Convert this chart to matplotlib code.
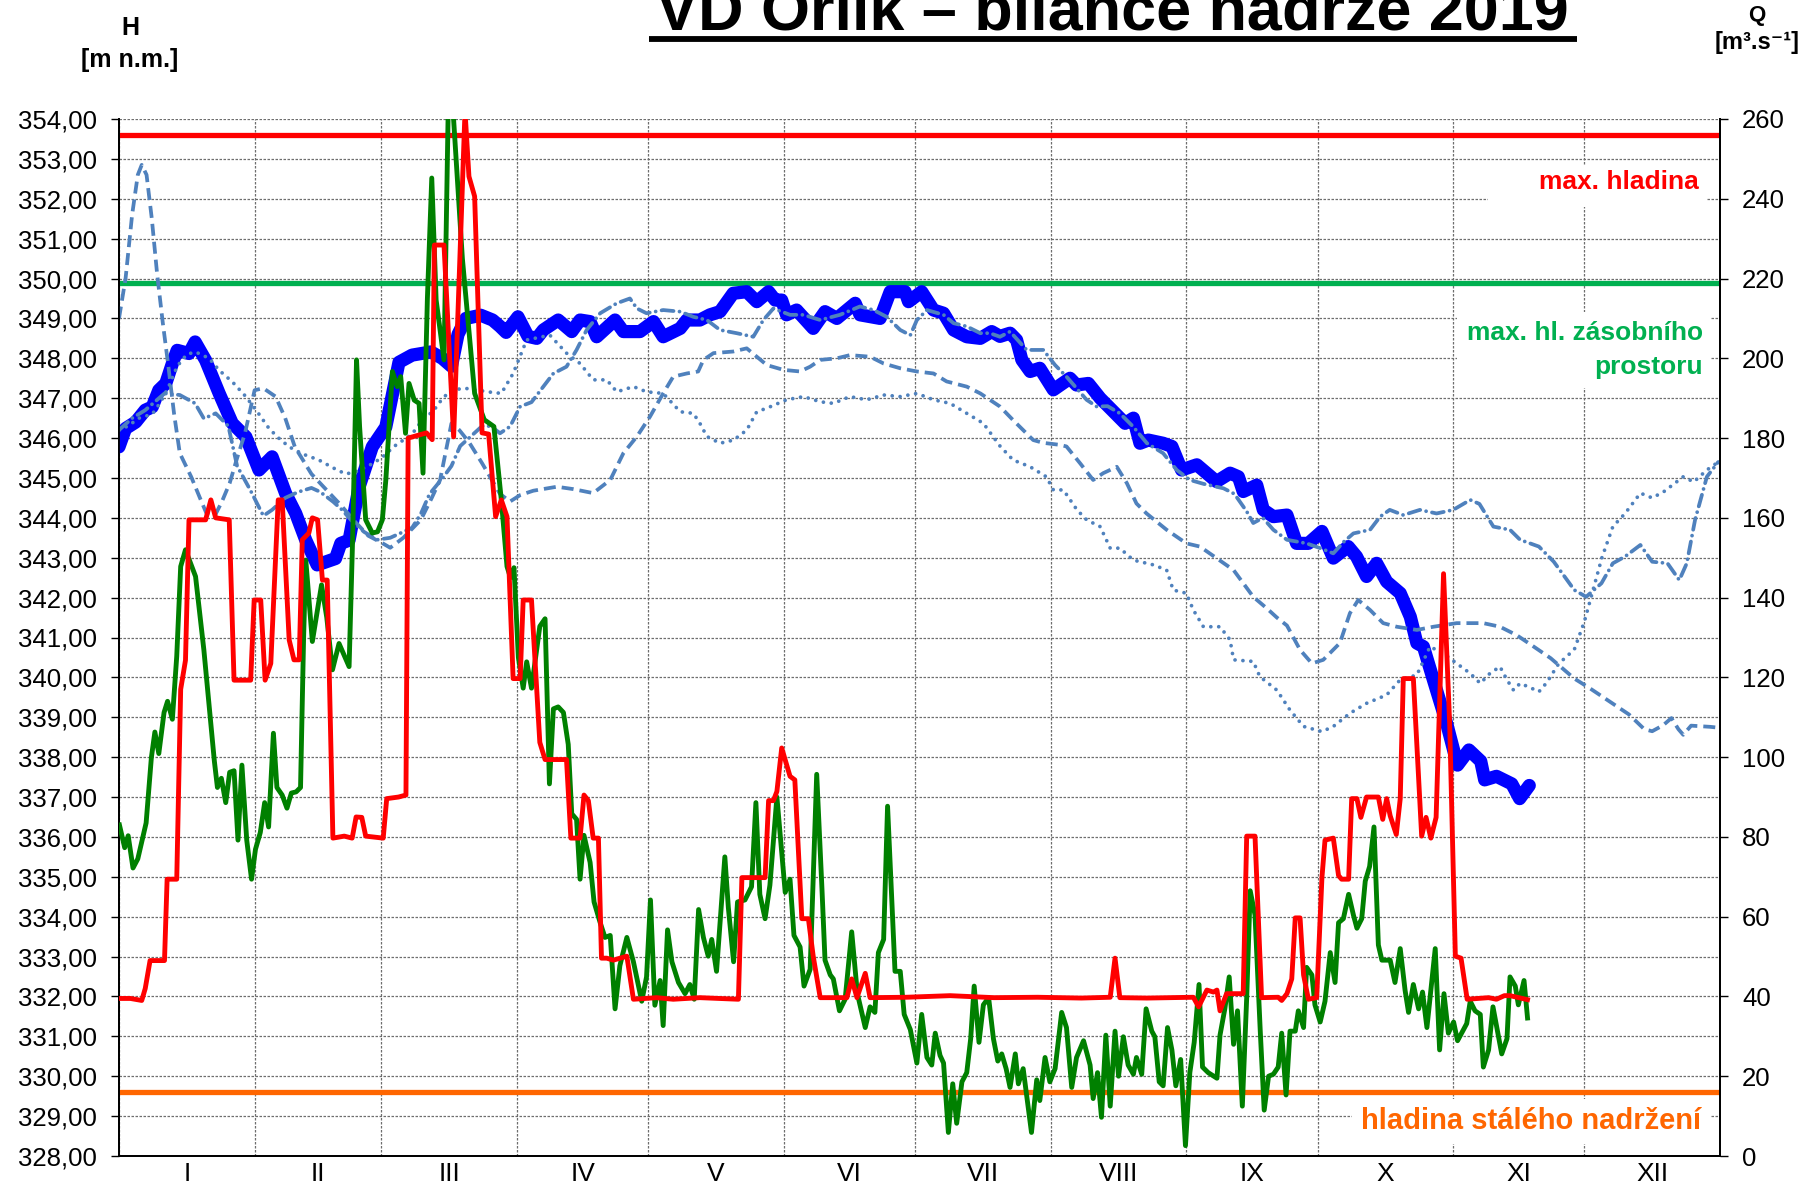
import matplotlib
matplotlib.use("Agg")
import matplotlib.pyplot as plt
import numpy as np
from matplotlib.patches import Rectangle
from matplotlib.lines import Line2D
import matplotlib.ticker as mticker

plt.rcParams['font.family'] = ['Liberation Sans', 'DejaVu Sans']

# ---------------- data ----------------
month_edges = [0, 31, 60, 91, 121, 152, 182, 213, 244, 274, 305, 335, 366]
month_labels = ['I', 'II', 'III', 'IV', 'V', 'VI', 'VII', 'VIII', 'IX', 'X', 'XI', 'XII']

level_max = 353.6          # max. hladina
level_storage = 349.9      # max. hl. zasobniho prostoru
level_permanent = 329.6    # hladina staleho nadrzeni

# water level 2019 (day of year, m n.m.)
level_2019 = [(0, 345.78), (1.5, 346.24), (3.8, 346.4), (6, 346.7), (7.6, 346.78), (9.1, 347.2),
              (10.7, 347.37), (12.2, 347.87), (13.3, 348.2), (16, 348.12), (17.4, 348.41), (19.8, 347.95),
              (22.9, 347.12), (25.9, 346.37), (29, 346.03), (32, 345.2), (35, 345.53), (38.1, 344.61),
              (40.4, 344.11), (42.7, 343.44), (45.3, 342.82), (49.5, 342.98), (50.7, 343.36), (52.6, 343.44),
              (54.9, 344.78), (57.9, 345.78), (61, 346.28), (64, 347.9), (67, 348.08), (71.3, 348.16),
              (73.9, 348.0), (76, 347.8), (77.5, 348.6), (79.3, 349.0), (82.7, 349.08), (85.4, 348.96),
              (87.1, 348.8), (88.5, 348.65), (91.2, 349.04), (93.5, 348.55), (95.5, 348.5), (97, 348.71),
              (100.4, 348.96), (103.5, 348.67), (105.4, 348.96), (107.7, 348.92), (109.2, 348.54),
              (113.4, 348.96), (115.3, 348.67), (119.1, 348.67), (122.2, 348.92), (124.4, 348.54),
              (128.3, 348.75), (129.8, 348.96), (132.8, 348.96), (135.1, 349.09), (137.4, 349.17),
              (140.4, 349.63), (143.5, 349.67), (145.8, 349.42), (148.5, 349.67), (150, 349.46),
              (151.5, 349.46), (152.6, 349.09), (154.9, 349.21), (158.7, 348.75), (161.4, 349.17),
              (164.1, 349.0), (168.3, 349.38), (169.4, 349.09), (174, 349.0), (176.3, 349.67),
              (179.7, 349.67), (180.5, 349.42), (183.5, 349.67), (186.2, 349.21), (188.5, 349.13),
              (190.8, 348.71), (193.8, 348.54), (196.9, 348.5), (199.5, 348.67), (201.4, 348.55),
              (203.7, 348.63), (205.2, 348.46), (206.4, 347.96), (208.3, 347.67), (210.5, 347.75),
              (213.6, 347.21), (217.4, 347.5), (218.9, 347.33), (221.6, 347.37), (224.3, 347.0),
              (228.1, 346.58), (230, 346.37), (231.9, 346.5), (233.4, 345.87), (235.3, 345.95),
              (238.7, 345.87), (240.7, 345.79), (242.9, 345.2), (246.4, 345.33), (250.9, 344.91),
              (254, 345.12), (255.9, 345.03), (257, 344.66), (260.1, 344.82), (261.6, 344.2),
              (263.9, 344.03), (267, 344.07), (269.2, 343.36), (271.9, 343.36), (275, 343.66),
              (277.6, 342.99), (281, 343.28), (282.9, 343.03), (285.2, 342.53), (287.5, 342.86),
              (289.8, 342.4), (292.9, 342.11), (295.2, 341.52), (296.7, 340.86), (298.2, 340.77),
              (300.5, 339.93), (303.5, 338.85), (306, 337.8), (308.6, 338.18), (311.3, 337.9),
              (312.2, 337.43), (314.9, 337.52), (317.5, 337.38), (318.4, 337.33), (320.2, 336.96),
              (322.4, 337.29)]

# reference year levels (dashed, dotted, dash-dot)
ref_dashed = [(0, 349.0), (1.5, 350.0), (3, 351.6), (4.3, 352.6), (5.2, 352.85), (6.3, 352.6), (7.5, 351.5),
              (8.7, 350.13), (10, 348.9), (11.3, 347.79), (12.6, 346.6), (13.9, 345.62), (16.5, 345.03),
              (18.5, 344.5), (20, 344.11), (21.8, 344.03), (23.5, 344.4), (25.3, 344.87), (27, 345.5),
              (28.8, 346.12), (31, 347.2), (33, 347.25), (35.8, 347.04), (38, 346.5), (40.2, 345.78),
              (44, 345.1), (47, 344.75), (50.7, 344.32), (54, 343.9), (57, 343.55), (60.3, 343.36),
              (62, 343.25), (65, 343.5), (69, 343.95), (71.5, 344.5), (73.4, 344.95), (76, 346.37),
              (77.8, 346.2), (80, 345.9), (83, 345.37), (87.1, 344.6), (89.4, 344.41), (91.7, 344.57),
              (94.7, 344.68), (100.1, 344.78), (103.9, 344.72), (108.4, 344.62), (112.3, 344.95),
              (115.3, 345.62), (118.4, 346.04), (121.4, 346.54), (124.4, 347.12), (126.7, 347.54),
              (129.8, 347.62), (132.4, 347.67), (133.6, 347.96), (135.9, 348.13), (140.4, 348.17),
              (143.5, 348.25), (145.8, 348.04), (148.1, 347.83), (151.9, 347.71), (155.7, 347.67),
              (158, 347.79), (160.3, 347.96), (164.1, 348.0), (167.1, 348.08), (171.7, 348.04),
              (174.8, 347.87), (178.6, 347.75), (182.4, 347.67), (186.2, 347.62), (189.2, 347.42),
              (193.8, 347.29), (196.9, 347.12), (201.4, 346.79), (204.4, 346.45), (209, 345.95),
              (211.3, 345.88), (215.1, 345.83), (216.6, 345.79), (219.7, 345.37), (222.7, 344.95),
              (225, 345.12), (228.1, 345.28), (230.4, 344.87), (232.6, 344.36), (234.9, 344.11),
              (239.5, 343.7), (244, 343.36), (247.1, 343.28), (250.9, 342.99), (254.8, 342.69),
              (259.3, 342.02), (262.4, 341.73), (264.7, 341.5), (267, 341.3), (270, 340.69),
              (272.7, 340.35), (275.3, 340.44), (279.1, 340.86), (281.4, 341.61), (283.3, 341.94),
              (286, 341.69), (289, 341.36), (292.1, 341.27), (296.7, 341.19), (300.5, 341.27),
              (305.8, 341.36), (311.9, 341.36), (315.7, 341.27), (319.5, 341.06), (322.9, 340.81),
              (327.3, 340.48), (332.7, 339.97), (336.2, 339.73), (340.7, 339.4), (345.2, 339.07),
              (348.7, 338.7), (350.5, 338.65), (353, 338.8), (354.9, 338.98), (356.5, 338.7),
              (357.6, 338.56), (359.4, 338.79), (363.8, 338.76), (365.5, 338.74)]

ref_dotted = [(0, 346.2), (2, 346.3), (4.6, 346.5), (7.6, 346.6), (9.5, 346.9), (11.4, 347.3), (13.3, 347.8),
              (15.5, 348.1), (17.5, 348.16), (20.6, 348.0), (22.9, 347.7), (26, 347.4), (29, 347.04),
              (32, 346.6), (34.3, 346.24), (36.5, 346.0), (38.9, 345.78), (42, 345.6), (45.7, 345.45),
              (49, 345.25), (51.8, 345.1), (54, 345.15), (57, 345.3), (60, 345.5), (63, 345.8), (67, 346.1),
              (69, 346.4), (72, 346.7), (74, 347.0), (76, 347.2), (79, 347.25), (82, 347.2), (85, 347.15),
              (87.4, 347.12), (90.1, 347.62), (93.2, 348.46), (98.5, 348.58), (102.3, 348.13),
              (105.4, 347.87), (108.4, 347.46), (111.5, 347.46), (113.8, 347.16), (117.6, 347.29),
              (120.6, 347.16), (124.4, 347.12), (128.3, 346.66), (131.3, 346.62), (132.8, 346.37),
              (134.4, 346.04), (137.4, 345.87), (140.5, 345.95), (143.5, 346.2), (145.8, 346.66),
              (148.1, 346.75), (152.6, 346.96), (156.5, 347.04), (160.3, 346.91), (163.3, 346.87),
              (167.1, 347.04), (170.9, 346.96), (174.8, 347.08), (178.6, 347.04), (182.4, 347.12),
              (186.2, 346.96), (190, 346.87), (193.8, 346.62), (197.6, 346.37), (201.4, 345.8),
              (204.4, 345.45), (208.3, 345.28), (212, 345.03), (213.6, 344.7), (215.9, 344.7),
              (219, 344.2), (221.2, 343.95), (224.3, 343.78), (226.6, 343.24), (228.8, 343.24),
              (231.9, 342.94), (236.5, 342.82), (239.5, 342.69), (241, 342.19), (244, 342.11),
              (245.6, 341.69), (247.9, 341.27), (251.7, 341.27), (254, 340.94), (254.8, 340.44),
              (259.3, 340.4), (260.8, 340.02), (264.7, 339.68), (267.7, 339.18), (270.8, 338.77),
              (275, 338.64), (277.6, 338.77), (281.4, 339.1), (285.2, 339.35), (289.8, 339.56),
              (292.9, 339.94), (296.7, 340.06), (299.7, 340.77), (302.8, 340.6), (305.8, 340.35),
              (308.9, 340.1), (311.2, 339.85), (313.4, 340.1), (315.7, 340.27), (317.3, 339.94),
              (318.8, 339.68), (320.3, 339.85), (322.5, 339.75), (324.6, 339.64), (326.4, 339.87),
              (329.1, 340.34), (332.7, 340.7), (335, 341.4), (337, 342.2), (339, 343.0), (341.5, 343.78),
              (344.3, 344.11), (347.8, 344.62), (350.5, 344.5), (353.2, 344.66), (357.6, 345.03),
              (360, 344.9), (363, 345.2), (365.6, 345.4)]

ref_dashdot = [(0, 346.2), (3, 346.5), (6, 346.7), (10.4, 347.12), (13.9, 347.08), (17.4, 346.87),
               (19.4, 346.49), (22.1, 346.62), (25, 346.3), (27, 345.3), (30, 344.7), (33, 344.05),
               (35, 344.2), (38, 344.5), (41, 344.65), (44, 344.75), (46, 344.65), (49, 344.4), (51, 344.2),
               (53, 343.95), (56, 343.65), (59, 343.45), (62, 343.5), (64, 343.6), (67, 343.75), (69, 344.1),
               (71, 344.6), (74, 345.0), (76, 345.3), (78, 345.8), (80, 346.0), (83, 346.3), (85, 346.3),
               (87.1, 346.12), (89.4, 346.29), (91.7, 346.79), (94.3, 346.9), (97, 347.29), (99.3, 347.62),
               (102.3, 347.79), (104.6, 348.21), (106.9, 348.71), (110, 349.13), (113.8, 349.38),
               (116.8, 349.5), (118.4, 349.25), (120.6, 349.13), (124.4, 349.21), (128.3, 349.17),
               (131.3, 349.04), (134.4, 348.96), (137.4, 348.71), (141.2, 348.63), (145, 348.54),
               (147.3, 348.96), (149.6, 349.25), (153.4, 349.09), (156.5, 349.09), (160.3, 348.96),
               (164.8, 349.09), (169.4, 349.3), (172.5, 349.21), (175.5, 349.04), (178.6, 348.71),
               (180.9, 348.58), (182.4, 348.96), (184.7, 349.21), (188.5, 349.09), (190.8, 348.88),
               (193.8, 348.8), (196.9, 348.63), (199.1, 348.63), (201.4, 348.54), (203.7, 348.67),
               (207.5, 348.21), (211.3, 348.21), (214, 347.83), (216.6, 347.54), (221.2, 346.96),
               (223.5, 346.79), (226, 346.8), (228.8, 346.62), (231.9, 346.28), (235, 345.87),
               (238.7, 345.62), (241.8, 345.2), (244.8, 344.95), (248, 344.85), (252.5, 344.74),
               (255, 344.6), (257.8, 344.16), (259.3, 343.87), (261.5, 344.0), (263.9, 343.7),
               (267, 343.45), (271.5, 343.36), (274.6, 343.24), (277.6, 343.11), (280, 343.4),
               (282.2, 343.61), (286, 343.7), (288.3, 344.03), (290.5, 344.2), (293.6, 344.07),
               (297.4, 344.2), (301.2, 344.11), (305, 344.2), (308.9, 344.45), (311, 344.35),
               (314.2, 343.78), (318, 343.7), (320.3, 343.45), (324.6, 343.28), (328, 342.9),
               (332.7, 342.19), (335.4, 342.02), (338.9, 342.36), (341.5, 342.86), (344.3, 343.03),
               (347.8, 343.32), (350.5, 342.9), (354, 342.86), (356.7, 342.44), (358.4, 342.86),
               (360.3, 343.95), (363, 345.03), (365.6, 345.4)]

# inflow 2019 (day, m3/s)
inflow_2019 = [(0.1, 83), (1.3, 77.3), (2.1, 80.3), (3.2, 72.2), (4.3, 74.5), (6.2, 83.5), (7.4, 99.9),
               (8.2, 106.3), (9.1, 100.9), (10.3, 111.2), (11.1, 114), (12.2, 109.5), (13.2, 125.3),
               (14.1, 147.8), (15.2, 152), (17.5, 145.3), (19.4, 126.9), (20.5, 114), (21.8, 99),
               (22.5, 92.4), (23.4, 94.7), (24.4, 88.6), (25.3, 96.2), (26.3, 96.6), (27.2, 79.2),
               (28.1, 98), (29.2, 79.2), (30.3, 69.4), (31.2, 76.9), (32.3, 81.1), (33.3, 88.6),
               (34.2, 82.5), (35.3, 106), (36.1, 92.4), (37.3, 90.5), (38.4, 87.2), (39.4, 91),
               (40.5, 91.3), (41.5, 92.4), (42.2, 130), (42.7, 149.4), (44.2, 129), (46.3, 143.2),
               (47.5, 135), (48.8, 121.9), (50.3, 128.5), (52.6, 122.7), (53.4, 154.5), (54.3, 199.6),
               (55, 182.9), (56.4, 159.5), (57.9, 156.2), (59.1, 156.5), (60.2, 159.5), (61, 169.5),
               (62.5, 196.7), (63.6, 192.9), (64.4, 195.4), (65.5, 181.2), (66.3, 193.7), (67.5, 189.5),
               (68.6, 188.7), (69.5, 171.2), (70.5, 215), (71.5, 245.2), (72.5, 214.6), (74.3, 199.6),
               (75.3, 265), (76.2, 265), (78.5, 225), (81.3, 191.2), (83.5, 184.6), (85.7, 182.9),
               (87.4, 164.5), (88.7, 147.8), (89.5, 145), (90.3, 147.5), (91.3, 125), (92.4, 117.3),
               (93.2, 123.9), (94.3, 117.3), (96.2, 132.8), (97.4, 134.7), (98.4, 93.3), (99.3, 112.1),
               (100.4, 112.6), (101.6, 111.2), (102.7, 103.2), (103.5, 85.8), (104.6, 84.4),
               (105.4, 69.4), (106.3, 80.4), (107.7, 73.6), (108.6, 63.7), (110, 58.5), (111.1, 54.8),
               (112.3, 55.3), (113.4, 36.9), (114.5, 47.7), (116.1, 54.8), (117.6, 48.7), (119.5, 38.8),
               (120.6, 44.9), (121.5, 64.2), (122.5, 37.8), (123.7, 44), (124.4, 32.7), (125.4, 56.7),
               (126.4, 48.7), (127.9, 43.5), (129.4, 40.7), (130.5, 43), (131.5, 39.3), (132.5, 61.8),
               (133.6, 54.8), (134.7, 50.1), (135.5, 54.3), (136.6, 46.3), (138.5, 75), (139.3, 62.3),
               (140.5, 48.7), (141.4, 63.7), (143.1, 64.2), (144.6, 67.5), (145.6, 88.6), (146.5, 65.6),
               (147.7, 59.5), (148.8, 67.9), (150.4, 90), (152.3, 66.1), (153.4, 69.4), (154.3, 55.3),
               (155.7, 52.4), (156.6, 42.6), (158, 46.8), (159.5, 95.7), (160.7, 67), (161.4, 49.1),
               (162.6, 45.4), (163.3, 44.4), (164.7, 36.4), (166, 39.3), (167.5, 56.2), (168.8, 40.7),
               (170.6, 32.2), (171.7, 37.4), (172.8, 36), (173.6, 51), (174.8, 54.3), (175.7, 87.7),
               (177.4, 46.3), (178.6, 46.3), (179.5, 35.5), (180.9, 31.7), (182.4, 23.3), (183.5, 35.5),
               (184.7, 24.7), (185.8, 22.8), (186.6, 30.8), (187.7, 25.2), (188.5, 23.3), (189.6, 5.9),
               (190.6, 18.1), (191.5, 8.2), (192.7, 18.6), (193.8, 20.9), (194.7, 29.4), (195.5, 42.6),
               (196.6, 28.5), (197.6, 37.9), (198.8, 39.7), (199.9, 29.4), (200.9, 23.8), (201.8, 25.6),
               (202.8, 21.9), (203.7, 17.2), (204.9, 25.6), (205.6, 18.1), (206.7, 21.9), (208.6, 5.9),
               (209.8, 19.1), (210.5, 13.9), (211.7, 24.7), (212.8, 18.6), (214, 21.9), (215.5, 36),
               (216.6, 32.2), (217.8, 17.2), (218.9, 24.7), (220.5, 28.9), (222, 22.8), (222.7, 14.4),
               (223.7, 20.9), (224.6, 9.7), (225.6, 30.3), (226.6, 12.5), (227.7, 31.3), (228.5, 20),
               (229.6, 29.9), (230.7, 22.8), (231.9, 20.5), (232.6, 24.7), (233.8, 20.5), (234.8, 36.9),
               (236.1, 31.3), (236.8, 29.9), (237.8, 18.6), (238.7, 17.6), (239.7, 32.2), (240.7, 26.6),
               (241.6, 17.6), (242.7, 24.2), (243.8, 2.6), (244.8, 20.9), (245.8, 28.5), (246.9, 43),
               (247.7, 22.3), (249, 20.9), (251, 19.5), (251.7, 30.3), (252.8, 36.9), (253.8, 44.9),
               (254.8, 28), (255.7, 36.4), (256.8, 12.5), (257.8, 39.7), (258.6, 66.5), (259.7, 60.4),
               (260.9, 31.3), (261.8, 11.5), (262.8, 20), (263.9, 20.5), (265, 22.3), (265.8, 30.8),
               (266.8, 15.3), (267.7, 31.3), (268.9, 31.3), (269.6, 36.4), (270.8, 32.2), (271.5, 47.3),
               (272.7, 45.4), (273.4, 37.9), (274.6, 33.6), (275.7, 38.8), (276.9, 51), (278, 43.5),
               (278.8, 58.5), (279.9, 59.5), (281.1, 65.6), (282.2, 60.4), (283, 57.1), (284.1, 59.5),
               (284.9, 68.9), (285.9, 72.6), (286.9, 82.5), (287.9, 52.9), (288.7, 49.1), (290.6, 49.1),
               (291.7, 43.5), (292.9, 52), (294, 41.6), (294.8, 36), (295.9, 43), (297.1, 36.9),
               (298, 41.1), (299, 32.2), (300.9, 52), (301.9, 26.6), (302.9, 40.7), (303.9, 30.8),
               (305.1, 33.6), (306, 28.9), (308.1, 33.2), (308.9, 38.8), (310, 36.4), (311.2, 35.5),
               (311.9, 22.3), (313.1, 26.6), (314.1, 37.4), (316.1, 25.6), (317.3, 29.4), (318, 44.9),
               (319.2, 42.6), (319.9, 37.9), (321.2, 44), (322, 34.6)]

# outflow 2019 (day, m3/s)
outflow_2019 = [(0, 39.5), (2.6, 39.5), (5.2, 39), (6, 42), (7.1, 49), (10.4, 49), (11, 69.4), (13.2, 69.4),
                (14.1, 117), (15.2, 124.3), (16, 159.5), (19.8, 159.5), (21, 164.5), (22.1, 160),
                (25.2, 159.5), (26.3, 119.3), (30.1, 119.3), (30.9, 139.4), (32.4, 139.4), (33.4, 119.3),
                (34.7, 123.5), (36.4, 164.5), (37.3, 164.5), (38.9, 129.4), (40, 124.4), (41.2, 124.4),
                (41.9, 154.5), (43.4, 156.2), (44.2, 160), (45.4, 159.5), (46.5, 144.4), (47.6, 144.4),
                (48.9, 79.7), (51.5, 80.2), (53.3, 79.7), (54.2, 85), (55.5, 84.9), (56.4, 80.2),
                (60.4, 79.7), (61.2, 89.6), (63.9, 90), (65.6, 90.5), (66.1, 180), (70.3, 181.3),
                (71.6, 179.6), (72.1, 228.4), (74.3, 228.4), (76.5, 180.3), (79.1, 262), (80, 245.6),
                (81.3, 240.6), (83, 181.3), (84.5, 181), (86.1, 160.3), (87.4, 164.5), (88.7, 160.3),
                (90.1, 119.7), (91.7, 119.7), (92.4, 139.4), (94.3, 139.4), (96.2, 103.7), (97.4, 99.4),
                (102.3, 99.4), (103.3, 79.7), (105.4, 79.7), (106.3, 90.5), (107.3, 89.1), (108.4, 79.7),
                (109.6, 79.7), (110.3, 49.6), (111.5, 49.6), (113, 49.1), (116.1, 50.1), (117.6, 39.3),
                (122.9, 39.7), (126.7, 39.3), (132.8, 39.7), (141.6, 39.3), (142.4, 69.8), (147.7, 69.8),
                (148.5, 89.1), (149.6, 89.1), (150.4, 91.4), (151.5, 102.3), (153.4, 95.2), (154.5, 94.3),
                (156.1, 59.5), (157.6, 59.5), (158.7, 50.1), (160.3, 39.7), (166.4, 39.7), (167.5, 44.4),
                (168.7, 39.7), (170.6, 45.8), (171.7, 39.7), (180, 39.8), (190, 40.2), (200, 39.7),
                (210, 39.8), (220, 39.6), (226.6, 39.8), (227.7, 49.6), (228.8, 39.7), (235, 39.6),
                (245.6, 39.8), (246.8, 37.4), (248.7, 41.6), (250.2, 41.1), (251, 41.6), (251.7, 36.4),
                (253.2, 40.7), (257, 40.7), (257.8, 80.2), (259.7, 80.2), (261.2, 39.7), (265, 39.8),
                (265.8, 39), (267, 40.7), (268.1, 44.4), (268.9, 59.7), (270, 59.7), (270.8, 45.4),
                (271.9, 39.3), (273.8, 39.7), (275, 69.8), (275.7, 79.2), (277.6, 79.7), (278.8, 70.3),
                (279.5, 69.4), (281.1, 69.4), (281.8, 89.6), (283, 89.6), (283.9, 84.9), (285.2, 90),
                (287.9, 90), (288.9, 84.4), (289.8, 89.6), (290.6, 85.3), (292, 80.6), (292.9, 89.6),
                (293.6, 119.7), (295.9, 119.7), (297.8, 80.2), (298.8, 84.9), (299.9, 79.7), (301.1, 84.9),
                (302.8, 146), (304.2, 108.4), (305.5, 50.1), (306.8, 49.6), (308.2, 39.3), (313.1, 39.7),
                (314.9, 39.3), (316.7, 40.2), (318, 40.2), (322, 39.2)]

# ---------------- figure ----------------
W, HH = 1811, 1188
fig = plt.figure(figsize=(W / 100, HH / 100), dpi=100)
L, R, T, B = 119, 1720, 119, 1156
ax = fig.add_axes([L / W, (HH - B) / HH, (R - L) / W, (B - T) / HH])

LB = '#4F81BD'
def xy(pairs):
    a = np.array(pairs, dtype=float)
    return a[:, 0], a[:, 1]

ax.set_xlim(0, 366)
ax.set_ylim(328, 354)
ax.set_axisbelow(True)

# horizontal level lines
ax.axhline(level_max, color='#FF0000', lw=3.8, zorder=2)
ax.axhline(level_storage, color='#00B050', lw=3.8, zorder=2)
ax.axhline(level_permanent, color='#FF6600', lw=3.8, zorder=2)

x, y = xy(level_2019)
ax.plot(x, y, color='#0000FF', lw=9.5, solid_joinstyle='round', solid_capstyle='round', zorder=3)
x, y = xy(ref_dashed)
ax.plot(x, y, color=LB, lw=2.7, ls=(0, (3.2, 1.6)), zorder=4)
x, y = xy(ref_dotted)
ax.plot(x, y, color=LB, lw=2.7, ls=(0, (0.01, 2.1)), dash_capstyle='round', zorder=4)
x, y = xy(ref_dashdot)
ax.plot(x, y, color=LB, lw=2.7, ls=(0, (3.2, 1.6, 0.01, 1.6)), dash_capstyle='round', zorder=4)

# grid
ax.set_yticks(np.arange(328, 355, 1))
ax.yaxis.set_major_formatter(mticker.FuncFormatter(lambda v, p: f'{v:.2f}'.replace('.', ',')))
centers = [(month_edges[i] + month_edges[i + 1]) / 2 for i in range(12)]
ax.set_xticks(centers)
ax.set_xticklabels(month_labels)
ax.set_xticks(month_edges, minor=True)
ax.grid(True, which='major', axis='y', color='#6e6e6e', lw=0.9, ls=(0, (2, 1.2)))
ax.grid(True, which='minor', axis='x', color='#6e6e6e', lw=0.9, ls=(0, (2, 1.2)))
ax.tick_params(axis='x', which='both', length=0, labelsize=19, pad=4)
ax.tick_params(axis='y', which='major', direction='out', length=5.8, width=1, labelsize=18.5, pad=10)

# white text boxes
for (x0, x1, y0, y1) in [(1488, 1706, 165, 207), (1457, 1710, 312, 388), (1352, 1710, 1099, 1144)]:
    ax.add_patch(Rectangle(((x0 - L) / (R - L), (B - y1) / (B - T)), (x1 - x0) / (R - L), (y1 - y0) / (B - T),
                           transform=ax.transAxes, facecolor='white', edgecolor='none', zorder=1))

ax2 = ax.twinx()
ax2.set_ylim(0, 260)
ax2.set_yticks(np.arange(0, 261, 20))
ax2.tick_params(axis='y', direction='out', length=5.8, width=1, labelsize=18.5, pad=10)
x, y = xy(inflow_2019)
ax2.plot(x, y, color='#008000', lw=3.5, solid_joinstyle='round', zorder=5)
x, y = xy(outflow_2019)
ax2.plot(x, y, color='#FF0000', lw=3.5, solid_joinstyle='round', zorder=6)

for a in (ax, ax2):
    a.spines['top'].set_visible(False)
    for s in ('left', 'right', 'bottom'):
        a.spines[s].set_linewidth(1.3)
        a.spines[s].set_color('black')

# texts
def ftxt(px, py, s, **kw):
    return fig.text(px / W, 1 - py / HH, s, **kw)

ftxt(1699, 182, 'max. hladina', ha='right', va='center', fontsize=19, fontweight='bold', color='#FF0000')
ftxt(1703, 333, 'max. hl. zásobního', ha='right', va='center', fontsize=19, fontweight='bold', color='#00B050')
ftxt(1703, 367, 'prostoru', ha='right', va='center', fontsize=19, fontweight='bold', color='#00B050')
ftxt(1701, 1121, 'hladina stálého nadržení', ha='right', va='center', fontsize=21, fontweight='bold',
     color='#FF6600')

ftxt(130, 28, 'H', ha='center', va='center', fontsize=18, fontweight='bold')
ftxt(130, 60, '[m n.m.]', ha='center', va='center', fontsize=18, fontweight='bold')
ftxt(1757, 16, 'Q', ha='center', va='center', fontsize=16, fontweight='bold')
ftxt(1757, 43, '[m³.s⁻¹]', ha='center', va='center', fontsize=17, fontweight='bold')

title = ftxt(1112, 30, 'VD Orlík – bilance nádrže 2019', ha='center', va='baseline', fontsize=45.3,
             fontweight='bold')
fig.canvas.draw()
bb = title.get_window_extent()
uy = 1 - 38.5 / HH
fig.add_artist(Line2D([(bb.x0 - 7) / W, (bb.x1 + 9) / W], [uy, uy], transform=fig.transFigure,
                      color='black', lw=4.2, solid_capstyle='butt'))

fig.savefig('out.png', dpi=100)
